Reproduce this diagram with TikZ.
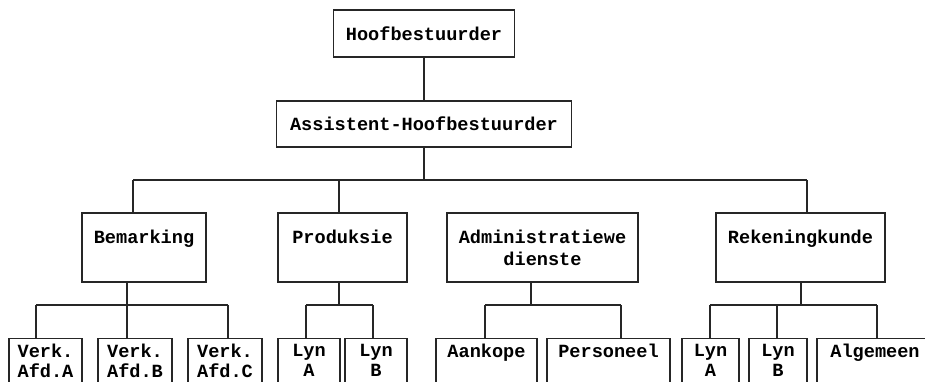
\documentclass[tikz,border=0pt]{standalone}
\usepackage{fontspec}
\newfontfamily\orgfont{Liberation Mono}
\usetikzlibrary{positioning}

\begin{document}
\begin{tikzpicture}[
            x=1pt, y=-1pt,
            % Estilos de las cajas y lineas
            unit/.style={rectangle, draw=black!85, line width=1.3pt, inner sep=0pt, align=center,
                         font=\orgfont\bfseries\fontsize{18.6}{22}\selectfont},
            subunit/.style={unit, anchor=north, minimum height=44,
                         font=\orgfont\bfseries\fontsize{18.6}{20}\selectfont},
            link/.style={draw=black!85, line width=1.3pt}
            ]
            \clip (0,0) rectangle (925,381);
            \useasboundingbox (0,0) rectangle (925,381);

            % Nodos: bestuur
            \node (hoof) [unit, minimum width=181, minimum height=47] at (424,33.5) {Hoofbestuurder};
            \node (assist) [unit, minimum width=295, minimum height=46] at (424,124) {Assistent-Hoofbestuurder};

            % Nodos: afdelings
            \node (bem) [unit, minimum width=124, minimum height=69] at (144,247.5) {Bemarking\\~};
            \node (prod) [unit, minimum width=129, minimum height=69] at (342.5,247.5) {Produksie\\~};
            \node (adm) [unit, minimum width=191, minimum height=69] at (542.5,247.5) {Administratiewe\\dienste};
            \node (rek) [unit, minimum width=169, minimum height=69] at (800.5,247.5) {Rekeningkunde\\~};

            % Nodos: onderafdelings
            \node (verka) [subunit, minimum width=73] at (45.5,338) {Verk.\\Afd.A};
            \node (verkb) [subunit, minimum width=74] at (135,338) {Verk.\\Afd.B};
            \node (verkc) [subunit, minimum width=74] at (225,338) {Verk.\\Afd.C};
            \node (plyna) [subunit, minimum width=62] at (309,338) {Lyn\\A};
            \node (plynb) [subunit, minimum width=62] at (376,338) {Lyn\\B};
            \node (aank) [subunit, minimum width=101] at (486.5,338) {Aankope\\~};
            \node (pers) [subunit, minimum width=123] at (608.5,338) {Personeel\\~};
            \node (rlyna) [subunit, minimum width=57] at (710.5,338) {Lyn\\A};
            \node (rlynb) [subunit, minimum width=58] at (778,338) {Lyn\\B};
            \node (alg) [subunit, minimum width=116] at (875,338) {Algemeen\\~};

            % Puntos de las barras
            \coordinate (bus1) at (133,180);
            \coordinate (bus2) at (339,180);
            \coordinate (bus4) at (807,180);
            \coordinate (bema) at (36,305);
            \coordinate (bemb) at (127,305);
            \coordinate (bemc) at (228,305);
            \coordinate (proda) at (306,305);
            \coordinate (prodm) at (339,305);
            \coordinate (prodb) at (373,305);
            \coordinate (adma) at (485,305);
            \coordinate (admm) at (531,305);
            \coordinate (admb) at (621,305);
            \coordinate (reka) at (710,305);
            \coordinate (rekb) at (777,305);
            \coordinate (rekm) at (801,305);
            \coordinate (rekc) at (877,305);

            % Conexiones: bestuur
            \draw [link] (hoof) -- (assist);
            \draw [link] (assist) -- (assist |- bus1);
            \draw [link] (bus1) -- (bus4);
            \draw [link] (bus1) -- (bus1 |- bem.north);
            \draw [link] (bus2) -- (bus2 |- prod.north);
            \draw [link] (bus4) -- (bus4 |- rek.north);

            % Conexiones: Bemarking
            \draw [link] (bemb |- bem.south) -- (bemb);
            \draw [link] (bema) -- (bemc);
            \draw [link] (bema) -- (bema |- verka.north);
            \draw [link] (bemb) -- (bemb |- verkb.north);
            \draw [link] (bemc) -- (bemc |- verkc.north);

            % Conexiones: Produksie
            \draw [link] (prodm |- prod.south) -- (prodm);
            \draw [link] (proda) -- (prodb);
            \draw [link] (proda) -- (proda |- plyna.north);
            \draw [link] (prodb) -- (prodb |- plynb.north);

            % Conexiones: Administratiewe dienste
            \draw [link] (admm |- adm.south) -- (admm);
            \draw [link] (adma) -- (admb);
            \draw [link] (adma) -- (adma |- aank.north);
            \draw [link] (admb) -- (admb |- pers.north);

            % Conexiones: Rekeningkunde
            \draw [link] (rekm |- rek.south) -- (rekm);
            \draw [link] (reka) -- (rekc);
            \draw [link] (reka) -- (reka |- rlyna.north);
            \draw [link] (rekb) -- (rekb |- rlynb.north);
            \draw [link] (rekc) -- (rekc |- alg.north);

        \end{tikzpicture}
\end{document}
